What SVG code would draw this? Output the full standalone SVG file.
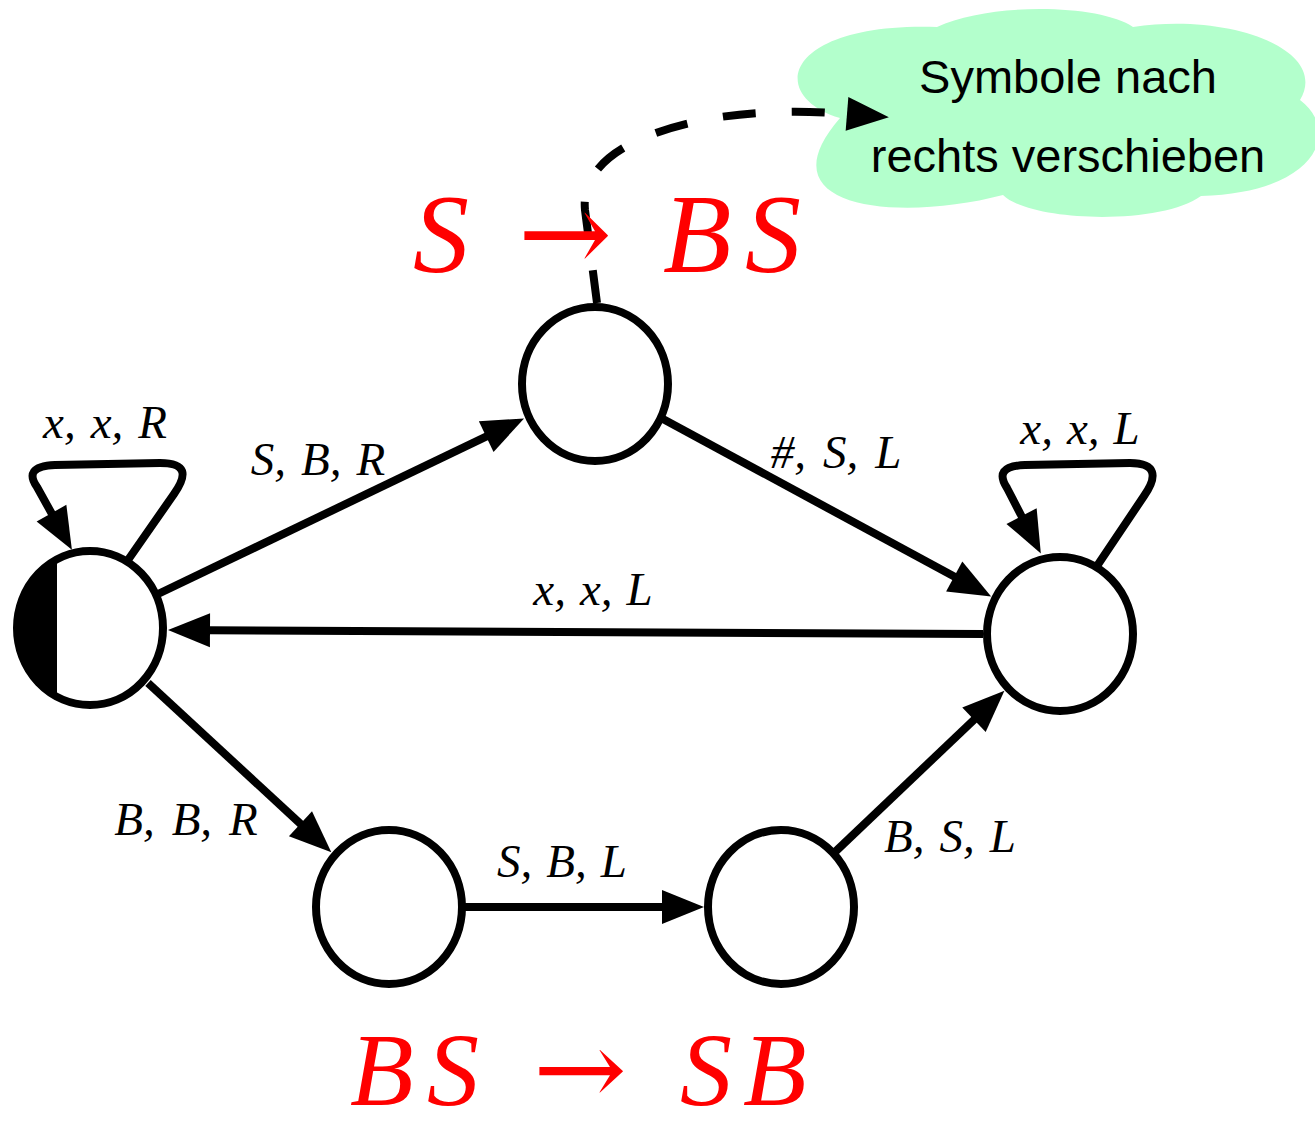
<svg xmlns="http://www.w3.org/2000/svg" width="1315" height="1128" viewBox="0 0 1315 1128">
<style>
.edge{fill:none;stroke:#000;stroke-width:8;stroke-linejoin:round;marker-end:url(#arr)}
.dash{fill:none;stroke:#000;stroke-width:8;stroke-dasharray:33 36;marker-end:url(#arr)}
.state{fill:#fff;stroke:#000;stroke-width:8}
.ring{fill:none;stroke:#000;stroke-width:8}
.lbl{font-family:"Liberation Serif","Times New Roman",serif;font-style:italic;font-size:47px;fill:#000;text-anchor:middle}
.red{font-family:"Liberation Serif","Times New Roman",serif;font-style:italic;fill:#ff0000}
.redarr{font-family:"DejaVu Serif","Liberation Serif",serif;fill:#ff0000}
.note{font-family:"Liberation Sans",Arial,sans-serif;font-size:47px;fill:#000;text-anchor:middle}
</style>
<defs>
<marker id="arr" markerUnits="userSpaceOnUse" markerWidth="44" markerHeight="36" refX="1" refY="17" orient="auto" overflow="visible">
<path d="M0,0 L42,17 L0,34 z" fill="#000"/>
</marker>
<clipPath id="startclip"><ellipse cx="90" cy="628" rx="73" ry="77"/></clipPath>
</defs>
<rect width="1315" height="1128" fill="#fff"/>

<g id="cloud">
<path d="M840 118 C765 95 785 22 937 27 C990 2 1100 4 1133 27 C1230 12 1330 50 1300 100 C1340 130 1320 192 1201 196 C1160 226 1030 222 1003 195 C900 222 760 210 840 118 Z" fill="#b3ffcc"/>
<text class="note" x="1068" y="93">Symbole nach</text>
<text class="note" x="1068" y="172">rechts verschieben</text>
</g>

<g id="connectors">
<path class="edge" d="M158 594 L487.1 436.2"/>
<path class="edge" d="M663 419 L955.1 577"/>
<path class="edge" d="M983 634 L209 630.2"/>
<path class="edge" d="M148 683 L301.2 824.5"/>
<path class="edge" d="M465 907 L663 907"/>
<path class="edge" d="M835 852 L974.7 719.1"/>
<path class="edge" d="M128 560 L174 494 C188 474 186 463 160 463 L55 465 C32 466 28 474 37 487 L52 514"/>
<path class="edge" d="M1097 566 L1144 496 C1158 476 1156 463 1130 463 L1025 465 C1002 466 998 474 1007 488 L1022 517"/>
<path class="dash" d="M597 303 L585 210 C580 160 640 130 720 117 C770 110 810 111 848 114"/>
</g>

<g id="edge-labels">
<text class="lbl" x="105" y="438">x,<tspan dx="15">x</tspan>,<tspan dx="15">R</tspan></text>
<text class="lbl" x="318" y="475">S,<tspan dx="15">B</tspan>,<tspan dx="15">R</tspan></text>
<text class="lbl" x="836" y="468">#,<tspan dx="17">S</tspan>,<tspan dx="17">L</tspan></text>
<text class="lbl" x="1080" y="444">x,<tspan dx="14">x</tspan>,<tspan dx="14">L</tspan></text>
<text class="lbl" x="593" y="605">x,<tspan dx="14">x</tspan>,<tspan dx="14">L</tspan></text>
<text class="lbl" x="186" y="835">B,<tspan dx="17">B</tspan>,<tspan dx="17">R</tspan></text>
<text class="lbl" x="562" y="877">S,<tspan dx="14">B</tspan>,<tspan dx="14">L</tspan></text>
<text class="lbl" x="950" y="852">B,<tspan dx="15">S</tspan>,<tspan dx="15">L</tspan></text>
</g>

<g id="rule-top">
<text class="red" y="272" font-size="112"><tspan x="413">S</tspan><tspan x="663">B</tspan><tspan x="745">S</tspan></text>
<text class="redarr" x="518" y="272" font-size="112" textLength="94" lengthAdjust="spacingAndGlyphs">→</text>
</g>
<g id="rule-bottom">
<text class="red" y="1105" font-size="104"><tspan x="350">B</tspan><tspan x="427">S</tspan><tspan x="680">S</tspan><tspan x="743">B</tspan></text>
<text class="redarr" x="533" y="1105" font-size="104" textLength="94" lengthAdjust="spacingAndGlyphs">→</text>
</g>

<g id="q0">
<ellipse cx="90" cy="628" rx="73" ry="77" fill="#fff"/>
<rect x="0" y="540" width="57" height="180" fill="#000" clip-path="url(#startclip)"/>
<ellipse class="ring" cx="90" cy="628" rx="73" ry="77"/>
</g>
<g id="q1"><ellipse class="state" cx="595" cy="384" rx="73" ry="77"/></g>
<g id="q2"><ellipse class="state" cx="1060" cy="634" rx="73" ry="77"/></g>
<g id="q3"><ellipse class="state" cx="389" cy="907" rx="73" ry="77"/></g>
<g id="q4"><ellipse class="state" cx="781" cy="907" rx="73" ry="77"/></g>
</svg>
